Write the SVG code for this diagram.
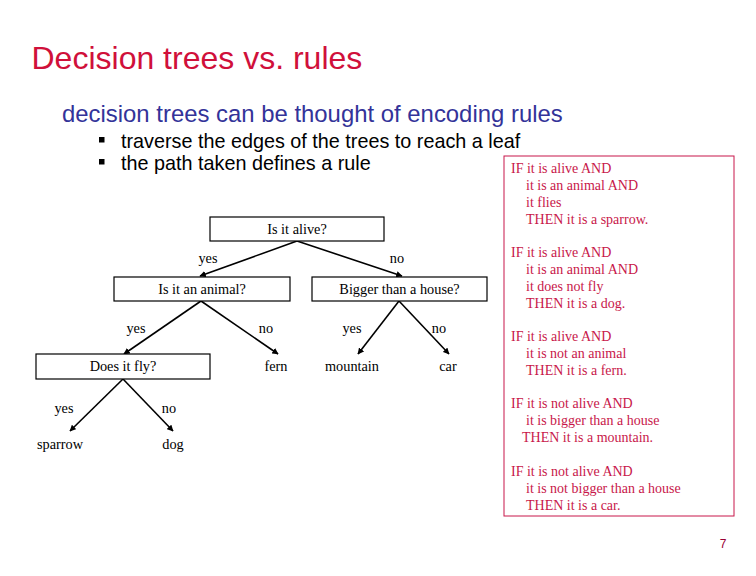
<svg xmlns="http://www.w3.org/2000/svg" width="756" height="576" viewBox="0 0 756 576">
<style>
.title{font-family:"Liberation Sans",Arial,sans-serif;font-size:32px;fill:#D0103A}
.sub{font-family:"Liberation Sans",Arial,sans-serif;font-size:23.9px;fill:#333399}
.bul{font-family:"Liberation Sans",Arial,sans-serif;font-size:19.8px;fill:#000}
.t{font-family:"Liberation Serif","Times New Roman",serif;font-size:14.3px;fill:#000;text-anchor:middle}
.box{fill:#fff;stroke:#000;stroke-width:1.2}
.edge{stroke:#000;stroke-width:1.6;fill:none;marker-end:url(#ah)}
.rule{font-family:"Liberation Serif","Times New Roman",serif;font-size:14px;fill:#C8174A}
.pg{font-family:"Liberation Sans",Arial,sans-serif;font-size:12px;fill:#990033;text-anchor:middle}
</style>
<defs>
<marker id="ah" viewBox="0 0 10 10" refX="9" refY="5" markerWidth="4" markerHeight="4" orient="auto" markerUnits="strokeWidth">
<path d="M0,0 L10,5 L0,10 z" fill="#000"/>
</marker>
</defs>
<rect width="756" height="576" fill="#fff"/>
<text class="title" x="31.5" y="68.5">Decision trees vs. rules</text>
<text class="sub" x="62" y="122">decision trees can be thought of encoding rules</text>
<rect x="99" y="137" width="5.5" height="5.5" fill="#000"/>
<text class="bul" x="121" y="148">traverse the edges of the trees to reach a leaf</text>
<rect x="99" y="159" width="5.5" height="5.5" fill="#000"/>
<text class="bul" x="121" y="170">the path taken defines a rule</text>

<g id="connectors">
<line class="edge" x1="297" y1="241" x2="200" y2="276"/>
<line class="edge" x1="297" y1="241" x2="402" y2="276"/>
<line class="edge" x1="201" y1="301" x2="124" y2="354"/>
<line class="edge" x1="201" y1="301" x2="278" y2="354"/>
<line class="edge" x1="399" y1="301" x2="358" y2="354"/>
<line class="edge" x1="399" y1="301" x2="449" y2="354"/>
<line class="edge" x1="123" y1="379" x2="70" y2="431"/>
<line class="edge" x1="123" y1="379" x2="173" y2="431"/>
<text class="t" x="208" y="263">yes</text>
<text class="t" x="397" y="263">no</text>
<text class="t" x="136" y="333">yes</text>
<text class="t" x="266" y="333">no</text>
<text class="t" x="352" y="333">yes</text>
<text class="t" x="439" y="333">no</text>
<text class="t" x="64" y="413">yes</text>
<text class="t" x="169" y="413">no</text>
</g>

<g id="alive">
<rect class="box" x="210" y="217" width="174" height="24"/>
<text class="t" x="297" y="233.5">Is it alive?</text>
</g>
<g id="animal">
<rect class="box" x="114" y="277" width="176" height="24"/>
<text class="t" x="202" y="293.5">Is it an animal?</text>
</g>
<g id="bigger">
<rect class="box" x="312" y="277" width="175" height="24"/>
<text class="t" x="399.5" y="293.5">Bigger than a house?</text>
</g>
<g id="fly">
<rect class="box" x="36" y="354" width="174" height="25"/>
<text class="t" x="123" y="370.5">Does it fly?</text>
</g>
<g id="fern"><text class="t" x="276" y="371">fern</text></g>
<g id="mountain"><text class="t" x="352" y="371">mountain</text></g>
<g id="car"><text class="t" x="448" y="371">car</text></g>
<g id="sparrow"><text class="t" x="60" y="449">sparrow</text></g>
<g id="dog"><text class="t" x="173" y="449">dog</text></g>

<g id="rules">
<rect x="504" y="156" width="230" height="360" fill="#fff" stroke="#C8174A" stroke-width="1"/>
<text class="rule" x="511" y="173">IF it is alive AND</text>
<text class="rule" x="526" y="190">it is an animal AND</text>
<text class="rule" x="526" y="207">it flies</text>
<text class="rule" x="526" y="224">THEN it is a sparrow.</text>
<text class="rule" x="511" y="257">IF it is alive AND</text>
<text class="rule" x="526" y="274">it is an animal AND</text>
<text class="rule" x="526" y="291">it does not fly</text>
<text class="rule" x="526" y="308">THEN it is a dog.</text>
<text class="rule" x="511" y="341">IF it is alive AND</text>
<text class="rule" x="526" y="358">it is not an animal</text>
<text class="rule" x="526" y="375">THEN it is a fern.</text>
<text class="rule" x="511" y="408">IF it is not alive AND</text>
<text class="rule" x="526" y="425">it is bigger than a house</text>
<text class="rule" x="522" y="442">THEN it is a mountain.</text>
<text class="rule" x="511" y="476">IF it is not alive AND</text>
<text class="rule" x="526" y="493">it is not bigger than a house</text>
<text class="rule" x="526" y="510">THEN it is a car.</text>
</g>
<text class="pg" x="723" y="548">7</text>
</svg>
